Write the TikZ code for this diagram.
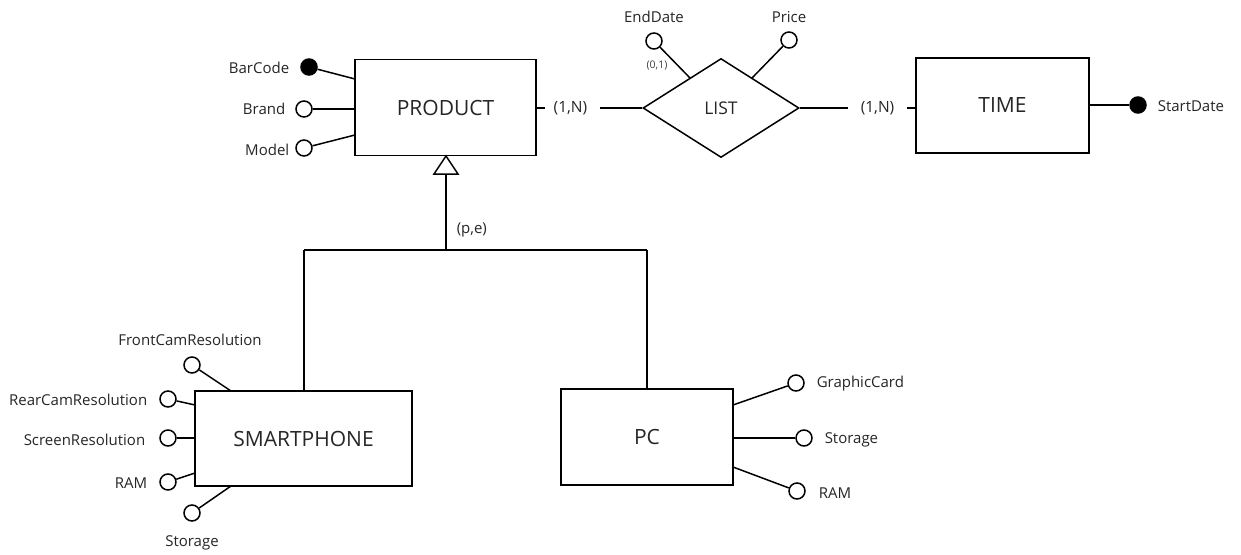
\documentclass[tikz,border=0pt]{standalone}
\usepackage{fontspec}
\setmainfont{Open Sans}
\usetikzlibrary{shapes.geometric}
\begin{document}
\begin{tikzpicture}[x=1pt,y=-1pt, line width=1.5pt,
 ent/.style={draw, rectangle, inner sep=0, font=\fontsize{21}{24}\selectfont, text=black!85},
 rel/.style={draw, diamond, inner sep=0, font=\fontsize{17.5}{20}\selectfont, text=black!85},
 attr/.style={draw, circle, minimum size=16pt, inner sep=0, fill=white},
 keyattr/.style={draw, circle, minimum size=16pt, inner sep=0, fill=black},
 lbl/.style={font=\fontsize{15}{17}\selectfont, inner sep=0, text=black!85},
 card/.style={font=\fontsize{15.5}{18}\selectfont, inner sep=0, text=black!85},
 small/.style={font=\fontsize{10.5}{12}\selectfont, inner sep=0, text=black!75}]
\useasboundingbox[fill=white] (0,0) rectangle (1241,554);

% entities
\node[ent, minimum width=181pt, minimum height=96pt] (prod) at (445.5,107.5) {PRODUCT};
\node[ent, minimum width=173pt, minimum height=95pt] (time) at (1002.5,105.5) {TIME};
\node[ent, minimum width=217pt, minimum height=95pt] (phone) at (303.5,438.5) {SMARTPHONE};
\node[ent, minimum width=172pt, minimum height=96pt] (pc) at (647,437) {PC};
\node[rel, minimum width=156pt, minimum height=99pt] (list) at (721,108) {LIST};

% relationship cardinalities
\node[card] (c1) at (570.5,108) {(1,N)};
\node[card] (c2) at (877.5,108) {(1,N)};
\coordinate (p1) at (536,108);
\coordinate (p1b) at (545,108);
\coordinate (p2) at (600,108);
\draw (p1) -- (p1b);
\draw (p2) -- (list.west);
\coordinate (q1) at (848,108);
\coordinate (q2) at (907,108);
\coordinate (q3) at (916,108);
\draw (list.east) -- (q1);
\draw (q2) -- (q3);

% PRODUCT attributes
\node[keyattr] (bc) at (309,67) {};
\node[attr] (br) at (304,109) {};
\node[attr] (mo) at (304,148) {};
\node[lbl, anchor=east] (bcl) at (290,68) {BarCode};
\node[lbl, anchor=east] (brl) at (286,109) {Brand};
\node[lbl, anchor=east] (mol) at (290,150) {Model};
\coordinate (pa1) at (355,79);
\coordinate (pa2) at (355,109);
\coordinate (pa3) at (355,135);
\draw (bc) -- (pa1);
\draw (br) -- (pa2);
\draw (mo) -- (pa3);

% LIST attributes
\node[attr] (ed) at (654,41) {};
\node[attr] (pr) at (789,40) {};
\node[lbl] (edl) at (654,17) {EndDate};
\node[lbl] (prl) at (789,17) {Price};
\node[small] (edc) at (657,66) {(0,1)};
\coordinate (la1) at (690,78);
\coordinate (la2) at (752,78);
\draw (ed) -- (la1);
\draw (pr) -- (la2);

% TIME attribute
\node[keyattr] (sd) at (1138,105) {};
\node[lbl, anchor=west] (sdl) at (1157,106) {StartDate};
\draw (time.east |- sd) -- (sd);

% generalization
\coordinate (tip) at (446,156);
\coordinate (tl) at (434,174);
\coordinate (tr) at (458,174);
\coordinate (tb) at (446,174);
\coordinate (j) at (446,250);
\coordinate (jl) at (304,250);
\coordinate (jr) at (647,250);
\draw[line join=miter] (tip) -- (tl) -- (tr) -- cycle;
\draw (tb) -- (j);
\draw (jl) -- (jr);
\draw (jl) -- (phone.north -| jl);
\draw (jr) -- (pc.north -| jr);
\node[lbl, anchor=west] (pe) at (456,230) {(p,e)};

% SMARTPHONE attributes
\node[attr] (fc) at (192,365) {};
\node[attr] (rc) at (168,399) {};
\node[attr] (sr) at (168,438) {};
\node[attr] (sram) at (168,482) {};
\node[attr] (sst) at (192,513) {};
\node[lbl] (fcl) at (190,340) {FrontCamResolution};
\node[lbl, anchor=east] (rcl) at (148,400) {RearCamResolution};
\node[lbl, anchor=east] (srl) at (146,440) {ScreenResolution};
\node[lbl, anchor=east] (sraml) at (148,483) {RAM};
\node[lbl] (sstl) at (192,543) {Storage};
\coordinate (sa1) at (231,391);
\coordinate (sa2) at (195,405);
\coordinate (sa3) at (195,438);
\coordinate (sa4) at (195,473);
\coordinate (sa5) at (231,486);
\draw (fc) -- (sa1);
\draw (rc) -- (sa2);
\draw (sr) -- (sa3);
\draw (sram) -- (sa4);
\draw (sst) -- (sa5);

% PC attributes
\node[attr] (gc) at (796,383) {};
\node[attr] (pst) at (804,438) {};
\node[attr] (pram) at (797,491) {};
\node[lbl, anchor=west] (gcl) at (816,384) {GraphicCard};
\node[lbl, anchor=west] (pstl) at (824,440) {Storage};
\node[lbl, anchor=west] (praml) at (818,493) {RAM};
\coordinate (ca1) at (733,405);
\coordinate (ca2) at (733,438);
\coordinate (ca3) at (733,467);
\draw (ca1) -- (gc);
\draw (ca2) -- (pst);
\draw (ca3) -- (pram);
\end{tikzpicture}
\end{document}
